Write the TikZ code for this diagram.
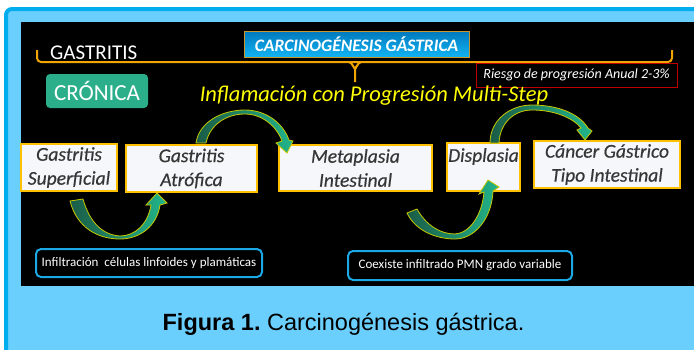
\documentclass[tikz,border=0pt]{standalone}
\usepackage{fontspec}
\setmainfont{Carlito}
\newfontfamily\capfont{Liberation Sans}
\newfontfamily\stagefont{Carlito}[ItalicFeatures={FakeBold=0.5}]
\definecolor{lightblue}{HTML}{6BCFFD}
\definecolor{frameblue}{HTML}{00AEEF}
\definecolor{braceorange}{HTML}{F0A500}
\definecolor{boxorange}{HTML}{FFC000}
\definecolor{boxfill}{HTML}{F5F7FA}
\definecolor{boxtext}{HTML}{363636}
\definecolor{cronica}{HTML}{2BAF8B}
\definecolor{carctop}{HTML}{0078BC}
\definecolor{carcbot}{HTML}{12B4F4}
\definecolor{carcedge}{HTML}{C8962A}
\definecolor{riskred}{HTML}{C00000}
\definecolor{noteblue}{HTML}{1CA8E4}
\definecolor{arrowdark}{HTML}{1A5C47}
\definecolor{arrowlight}{HTML}{22B58B}
\definecolor{arrowedge}{HTML}{C8C800}
\definecolor{titleyellow}{HTML}{FFFF00}
\begin{document}
\begin{tikzpicture}[x=1pt,y=-1pt,
  stagebox/.style={draw=boxorange, line width=2pt, fill=boxfill, inner sep=0pt,
    font=\stagefont\fontsize{19.5}{24}\selectfont\itshape, text=boxtext, align=center},
  notebox/.style={draw=noteblue, line width=2pt, rounded corners=5pt, fill=black,
    text=white, font=\fontsize{13}{15}\selectfont, inner sep=0pt},
  garrow/.style={draw=arrowedge, line width=0.8pt, left color=arrowdark, right color=arrowlight},
  bracestyle/.style={draw=braceorange, line width=2pt}]
\useasboundingbox (0,0) rectangle (694,349);
\fill[white] (0,0) rectangle (694,349);
\begin{scope}
  \clip (0,0) rectangle (694,349);
  \fill[lightblue, rounded corners=6] (6,9) rectangle (720,380);
  \draw[frameblue, line width=4pt, rounded corners=6] (6,380) -- (6,9) -- (720,9);
\end{scope}
\fill[black] (21,22) rectangle (694,286);

% brace
\draw[bracestyle, rounded corners=4] (37,50) -- (37,62) -- (672,62) -- (672,50);
\draw[bracestyle] (349,62) to[out=0,in=-90] (355,68) -- (355,82);
\draw[bracestyle] (361,62) to[out=180,in=-90] (355,68);

% header labels
\node[text=white, font=\fontsize{21}{24}\selectfont, anchor=west, inner sep=0pt] (gastr) at (50,52.5) {GASTRITIS};
\node[draw=carcedge, line width=0.8pt, top color=carctop, bottom color=carcbot,
  minimum width=225pt, minimum height=26pt, inner sep=0pt,
  text=white, font=\fontsize{17.5}{20}\selectfont\bfseries\itshape] (carc) at (356.5,44) {CARCINOGÉNESIS GÁSTRICA};
\node[fill=cronica, rounded corners=4pt, minimum width=102pt, minimum height=34pt, inner sep=0pt,
  text=white, font=\fontsize{23}{26}\selectfont] (cron) at (97,91) {CRÓNICA};
\node[draw=riskred, line width=1pt, minimum width=201pt, minimum height=24pt, inner sep=0pt,
  text=white, font=\fontsize{14}{16}\selectfont\itshape] (risk) at (576.5,75) {Riesgo de progresión Anual 2-3\%};
\node[text=titleyellow, font=\fontsize{22.5}{26}\selectfont\itshape] (infl) at (374,96) {Inflamación con Progresión Multi-Step};

% stage boxes
\node[stagebox, minimum width=96pt, minimum height=47pt] (gs) at (69,167.5) {Gastritis\\Superficial};
\node[stagebox, minimum width=131pt, minimum height=47pt] (ga) at (191.5,168.5) {Gastritis\\Atrófica};
\node[stagebox, minimum width=153pt, minimum height=46pt] (mi) at (355.5,168) {Metaplasia\\Intestinal};
\node[stagebox, minimum width=73pt, minimum height=48pt] (dp) at (483.5,167) {Displasia\\\phantom{X}};
\node[stagebox, minimum width=146pt, minimum height=47pt] (cg) at (607,164.5) {Cáncer Gástrico\\Tipo Intestinal};

% curved arrows
\path[garrow] (70,201) -- (83,199) .. controls (90,224) and (104,235) .. (120,236)
  .. controls (135,236) and (148,224) .. (151,205) -- (146,205) -- (157,193) -- (167,203) -- (160,205)
  .. controls (157,226) and (140,239) .. (120,239) .. controls (98,239) and (77,228) .. (70,201) -- cycle;
\path[garrow] (196,143) .. controls (199,122) and (222,110) .. (245,110)
  .. controls (266,110) and (283,123) .. (289,140) -- (293,141) -- (287,153) -- (276,143) -- (282,141)
  .. controls (276,125) and (261,114) .. (245,114) .. controls (227,114) and (210,124) .. (206,143) -- cycle;
\path[garrow] (407,213) -- (417,209) .. controls (426,225) and (440,234) .. (455,234)
  .. controls (470,233) and (482,215) .. (484,192) -- (479,194) -- (488,180) -- (499,187) -- (493,191)
  .. controls (492,218) and (475,239) .. (455,239) .. controls (435,239) and (415,230) .. (407,213) -- cycle;
\path[garrow] (490,143) .. controls (490,120) and (510,105) .. (532,105)
  .. controls (555,105) and (578,112) .. (588,128) -- (592,131) -- (585,140) -- (577,130) -- (581,128)
  .. controls (572,117) and (553,110) .. (532,110) .. controls (515,110) and (500,122) .. (499,143) -- cycle;

% note boxes
\node[notebox, minimum width=226pt, minimum height=28pt] (n1) at (149,263) {Infiltración\ \ células linfoides y plamáticas};
\node[notebox, minimum width=224pt, minimum height=29pt] (n2) at (460,265.5) {Coexiste infiltrado PMN grado variable};

% caption
\node[font=\capfont\fontsize{23.5}{27}\selectfont, text=black] (cap) at (343.5,324) {\textbf{Figura 1.}~Carcinogénesis gástrica.};
\end{tikzpicture}
\end{document}
